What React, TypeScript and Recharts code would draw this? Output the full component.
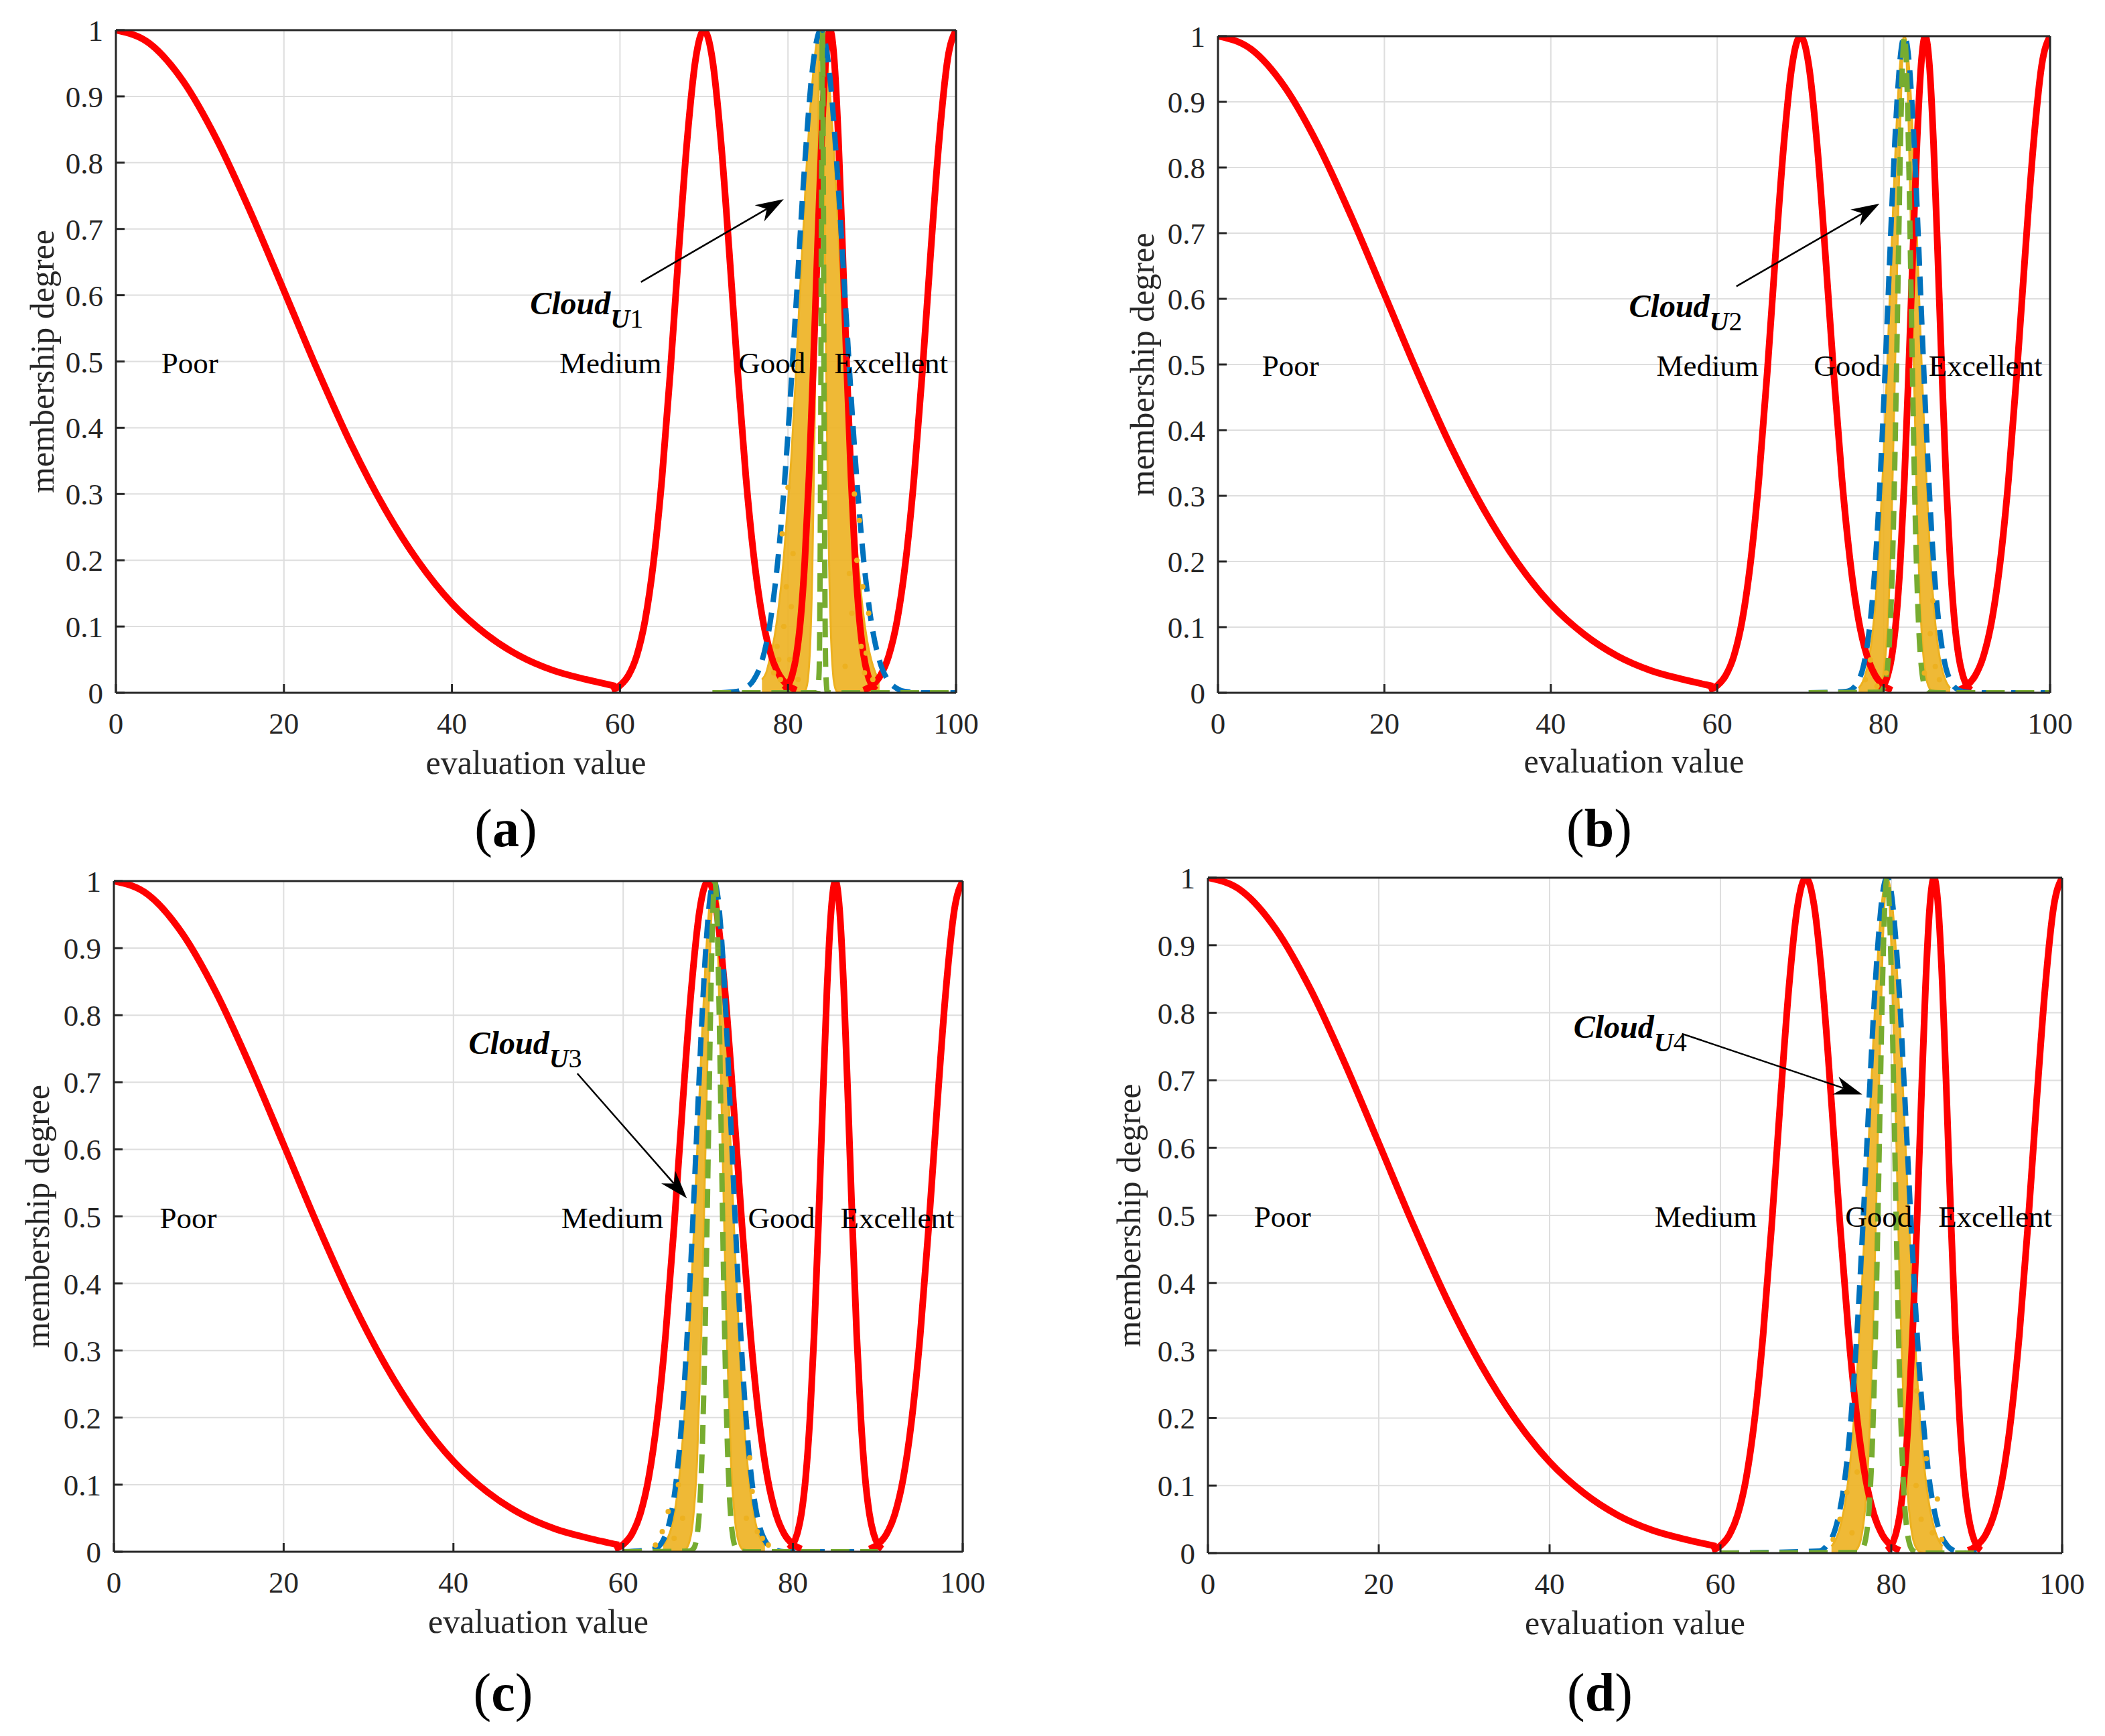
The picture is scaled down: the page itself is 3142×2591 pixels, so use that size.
import React from 'react'
import { Area, CartesianGrid, ComposedChart, Line, ReferenceDot, ReferenceLine, Scatter, XAxis, YAxis } from 'recharts'

type Pt = [number, number]
type Band = [number, number, number]

const xTicks = [0, 20, 40, 60, 80, 100]
const yTicks = [0, 0.1, 0.2, 0.3, 0.4, 0.5, 0.6, 0.7, 0.8, 0.9, 1]
const gradeNames = ['Poor', 'Medium', 'Good', 'Excellent']

// standard grade clouds (red), same in every panel
const poorCloud: Pt[] = [
  [0, 1], [4, 0.98], [8, 0.923], [12, 0.835], [16, 0.726], [20, 0.607], [24, 0.487], [28, 0.375],
  [32, 0.278], [36, 0.198], [40, 0.135], [44, 0.089], [48, 0.056], [52, 0.034], [56, 0.02], [59.5, 0.01],
]
const mediumCloud: Pt[] = [
  [59, 0.004], [60, 0.011], [61, 0.026], [62, 0.056], [63, 0.11], [64, 0.198], [65, 0.324], [66, 0.486],
  [67, 0.667], [68, 0.835], [69, 0.956], [70, 1], [71, 0.956], [72, 0.835], [73, 0.667], [74, 0.486],
  [75, 0.324], [76, 0.198], [77, 0.11], [78, 0.056], [79, 0.026], [80, 0.011], [81, 0.004],
]
const goodCloud: Pt[] = [
  [79.5, 0.004], [80, 0.011], [80.5, 0.027], [81, 0.057], [81.5, 0.111], [82, 0.199], [82.5, 0.326],
  [83, 0.488], [83.5, 0.668], [84, 0.836], [84.5, 0.956], [85, 1], [85.5, 0.956], [86, 0.836],
  [86.5, 0.668], [87, 0.488], [87.5, 0.326], [88, 0.199], [88.5, 0.111], [89, 0.057], [89.5, 0.027],
  [90, 0.011], [90.5, 0.004],
]
const excellentCloud: Pt[] = [
  [89, 0.004], [90, 0.011], [91, 0.026], [92, 0.056], [93, 0.11], [94, 0.198], [95, 0.324], [96, 0.486],
  [97, 0.667], [98, 0.835], [99, 0.956], [100, 1],
]
const gradeClouds = [poorCloud, mediumCloud, goodCloud, excellentCloud]

// (a) Cloud U1
const blueU1: Pt[] = [
  [72, 0], [73.9, 0.002], [74.9, 0.007], [75.9, 0.019], [76.9, 0.048], [77.9, 0.108], [78.9, 0.214],
  [79.9, 0.373], [80.9, 0.574], [81.9, 0.781], [82.9, 0.94], [83.9, 1], [84.9, 0.94], [85.9, 0.781],
  [86.9, 0.574], [87.9, 0.373], [88.9, 0.214], [89.9, 0.108], [90.9, 0.048], [91.9, 0.019], [92.9, 0.007],
  [93.9, 0.002], [96, 0], [100, 0],
]
const greenU1: Pt[] = [
  [71, 0], [83.5, 0], [83.7, 0.03], [83.8, 0.14], [83.9, 0.41], [84, 0.8], [84.1, 1], [84.2, 0.8],
  [84.3, 0.41], [84.4, 0.14], [84.5, 0.03], [84.7, 0], [100, 0],
]
const yellowU1: Band[] = [
  [76.9, 0, 0.02], [77.4, 0, 0.03], [77.9, 0, 0.055], [78.4, 0, 0.085], [78.9, 0, 0.13], [79.4, 0, 0.19],
  [79.9, 0, 0.27], [80.4, 0, 0.355], [80.9, 0, 0.47], [81.4, 0, 0.6], [81.9, 0.001, 0.715], [82.15, 0.006, 0.78],
  [82.4, 0.024, 0.83], [82.65, 0.076, 0.88], [82.9, 0.19, 0.92], [83.15, 0.39, 0.955], [83.4, 0.66, 0.98],
  [83.65, 0.9, 0.995], [83.9, 1, 1], [84.15, 0.9, 0.995], [84.4, 0.66, 0.98], [84.65, 0.39, 0.955],
  [84.9, 0.19, 0.92], [85.15, 0.076, 0.875], [85.4, 0.024, 0.83], [85.65, 0.006, 0.775], [85.9, 0.001, 0.72],
  [86.4, 0, 0.59], [86.9, 0, 0.475], [87.4, 0, 0.36], [87.9, 0, 0.265], [88.4, 0, 0.19], [88.9, 0, 0.125],
  [89.4, 0, 0.08], [89.9, 0, 0.05], [90.4, 0, 0.03], [90.9, 0, 0.017],
]
const dropsU1: Pt[] = [
  [78.3, 0.03], [78.7, 0.07], [79.1, 0.02], [79.5, 0.1], [79.8, 0.16], [80.2, 0.05], [80.6, 0.21], [81.2, 0.02],
  [86.8, 0.04], [87.6, 0.12], [88.2, 0.2], [88.7, 0.07], [89.1, 0.03], [89.6, 0.12], [90.1, 0.02], [87.9, 0.3],
  [80, 0.31], [88.5, 0.26], [79.3, 0.24], [88.9, 0.16], [78.9, 0.05], [89.3, 0.06], [80.4, 0.13], [87.3, 0.18],
]

// (b) Cloud U2
const blueU2: Pt[] = [
  [71, 0], [75.5, 0.002], [76.5, 0.009], [77, 0.019], [77.5, 0.037], [78, 0.07], [78.5, 0.122], [79, 0.199],
  [79.5, 0.306], [80, 0.44], [80.5, 0.591], [81, 0.744], [81.5, 0.877], [82, 0.968], [82.5, 1], [83, 0.968],
  [83.5, 0.877], [84, 0.744], [84.5, 0.591], [85, 0.44], [85.5, 0.306], [86, 0.199], [86.5, 0.122],
  [87, 0.07], [87.5, 0.037], [88, 0.019], [88.5, 0.009], [89.5, 0.002], [91, 0], [100, 0],
]
const greenU2: Pt[] = [
  [71, 0], [79.5, 0.001], [80, 0.008], [80.5, 0.044], [80.75, 0.091], [81, 0.172], [81.25, 0.295],
  [81.5, 0.458], [81.75, 0.644], [82, 0.823], [82.25, 0.952], [82.5, 1], [82.75, 0.952], [83, 0.823],
  [83.25, 0.644], [83.5, 0.458], [83.75, 0.295], [84, 0.172], [84.25, 0.091], [84.5, 0.044], [85, 0.008],
  [85.5, 0.001], [87, 0], [100, 0],
]
const yellowU2: Band[] = [
  [77, 0, 0.007], [77.5, 0, 0.017], [78, 0, 0.037], [78.5, 0, 0.073], [79, 0.001, 0.135], [79.5, 0.007, 0.23],
  [80, 0.031, 0.36], [80.5, 0.109, 0.52], [81, 0.288, 0.693], [81.5, 0.575, 0.849], [82, 0.871, 0.96],
  [82.5, 1, 1], [83, 0.871, 0.96], [83.5, 0.575, 0.849], [84, 0.288, 0.693], [84.5, 0.109, 0.52],
  [85, 0.031, 0.36], [85.5, 0.007, 0.23], [86, 0.001, 0.135], [86.5, 0, 0.073], [87, 0, 0.037],
  [87.5, 0, 0.017], [88, 0, 0.007],
]
const dropsU2: Pt[] = [
  [77.8, 0.02], [78.4, 0.05], [79.2, 0.01], [80.3, 0.03], [84.9, 0.03], [85.6, 0.09], [86.2, 0.04],
  [86.7, 0.02], [85.9, 0.14],
]

// (c) Cloud U3
const blueU3: Pt[] = [
  [60, 0], [63.7, 0.004], [64.7, 0.017], [65.2, 0.032], [65.7, 0.059], [66.2, 0.101], [66.7, 0.163],
  [67.2, 0.249], [67.7, 0.361], [68.2, 0.493], [68.7, 0.635], [69.2, 0.775], [69.7, 0.893], [70.2, 0.972],
  [70.7, 1], [71.2, 0.972], [71.7, 0.893], [72.2, 0.775], [72.7, 0.635], [73.2, 0.493], [73.7, 0.361],
  [74.2, 0.249], [74.7, 0.163], [75.2, 0.101], [75.7, 0.059], [76.2, 0.032], [76.7, 0.017], [77.7, 0.004],
  [79, 0], [90, 0],
]
const greenU3: Pt[] = [
  [60, 0], [67.8, 0.001], [68.3, 0.005], [68.8, 0.034], [69.05, 0.076], [69.3, 0.15], [69.55, 0.268],
  [69.8, 0.43], [70.05, 0.622], [70.3, 0.81], [70.55, 0.949], [70.8, 1], [71.05, 0.949], [71.3, 0.81],
  [71.55, 0.622], [71.8, 0.43], [72.05, 0.268], [72.3, 0.15], [72.55, 0.076], [72.8, 0.034], [73.3, 0.005],
  [73.8, 0.001], [75, 0], [90, 0],
]
const yellowU3: Band[] = [
  [64.7, 0, 0.009], [65.2, 0, 0.019], [65.7, 0, 0.037], [66.2, 0, 0.07], [66.7, 0, 0.122], [67.2, 0.002, 0.199],
  [67.7, 0.011, 0.306], [68.2, 0.044, 0.44], [68.7, 0.135, 0.591], [69.2, 0.325, 0.744], [69.7, 0.607, 0.877],
  [70.2, 0.882, 0.968], [70.7, 1, 1], [71.2, 0.882, 0.968], [71.7, 0.607, 0.877], [72.2, 0.325, 0.744],
  [72.7, 0.135, 0.591], [73.2, 0.044, 0.44], [73.7, 0.011, 0.306], [74.2, 0.002, 0.199], [74.7, 0, 0.122],
  [75.2, 0, 0.07], [75.7, 0, 0.037], [76.2, 0, 0.019], [76.7, 0, 0.009],
]
const dropsU3: Pt[] = [
  [63.8, 0.01], [64.6, 0.03], [65.3, 0.06], [66, 0.02], [66.5, 0.1], [67, 0.05], [74.5, 0.05], [75.2, 0.09],
  [75.8, 0.03], [76.4, 0.02], [77.1, 0.01], [74.9, 0.14],
]

// (d) Cloud U4
const blueU4: Pt[] = [
  [60, 0], [71.5, 0.003], [72.5, 0.012], [73.5, 0.038], [74, 0.065], [74.5, 0.104], [75, 0.16], [75.5, 0.235],
  [76, 0.33], [76.5, 0.443], [77, 0.568], [77.5, 0.696], [78, 0.816], [78.5, 0.913], [79, 0.978], [79.5, 1],
  [80, 0.978], [80.5, 0.913], [81, 0.816], [81.5, 0.696], [82, 0.568], [82.5, 0.443], [83, 0.33],
  [83.5, 0.235], [84, 0.16], [84.5, 0.104], [85, 0.065], [85.5, 0.038], [86.5, 0.012], [87.5, 0.003],
  [89, 0], [90, 0],
]
const greenU4: Pt[] = [
  [60, 0], [76, 0.001], [76.5, 0.004], [77, 0.021], [77.5, 0.085], [77.75, 0.151], [78, 0.249], [78.25, 0.381],
  [78.5, 0.539], [78.75, 0.707], [79, 0.857], [79.25, 0.962], [79.5, 1], [79.75, 0.962], [80, 0.857],
  [80.25, 0.707], [80.5, 0.539], [80.75, 0.381], [81, 0.249], [81.25, 0.151], [81.5, 0.085], [82, 0.021],
  [82.5, 0.004], [83, 0.001], [84, 0], [90, 0],
]
const yellowU4: Band[] = [
  [73, 0, 0.01], [73.5, 0, 0.02], [74, 0, 0.038], [74.5, 0, 0.067], [75, 0, 0.112], [75.5, 0.001, 0.177],
  [76, 0.006, 0.266], [76.5, 0.024, 0.378], [77, 0.076, 0.508], [77.5, 0.192, 0.649], [78, 0.395, 0.784],
  [78.5, 0.662, 0.898], [79, 0.902, 0.973], [79.5, 1, 1], [80, 0.902, 0.973], [80.5, 0.662, 0.898],
  [81, 0.395, 0.784], [81.5, 0.192, 0.649], [82, 0.076, 0.508], [82.5, 0.024, 0.378], [83, 0.006, 0.266],
  [83.5, 0.001, 0.177], [84, 0, 0.112], [84.5, 0, 0.067], [85, 0, 0.038], [85.5, 0, 0.02], [86, 0, 0.01],
]
const dropsU4: Pt[] = [
  [73.2, 0.02], [74, 0.05], [74.8, 0.09], [75.4, 0.03], [76, 0.12], [82.9, 0.1], [83.5, 0.05], [84.1, 0.14],
  [84.8, 0.03], [85.4, 0.08], [83, 0.24], [85.9, 0.02],
]

// where the grade names and the cloud tag sit (data units)
const gradeXa = [5.4, 52.8, 74.1, 85.5]
const gradeXb = [5.3, 52.7, 71.6, 85.4]
const gradeXc = [5.4, 52.7, 74.7, 85.6]
const gradeXd = [5.4, 52.3, 74.6, 85.5]

const panels = [
  { id: 'a', sub: '1', blue: blueU1, green: greenU1, yellow: yellowU1, drops: dropsU1, gradeX: gradeXa,
    tag: [49.3, 0.571], arrow: [[62.5, 0.62], [79.5, 0.745]],
    L: 173, R: 1427, T: 45, B: 1034, yLabelX: 80, xLabelY: 1155, letterX: 755, letterY: 1263 },
  { id: 'b', sub: '2', blue: blueU2, green: greenU2, yellow: yellowU2, drops: dropsU2, gradeX: gradeXb,
    tag: [49.4, 0.572], arrow: [[62.3, 0.619], [79.5, 0.745]],
    L: 1818, R: 3060, T: 54, B: 1034, yLabelX: 1722, xLabelY: 1153, letterX: 2387, letterY: 1263 },
  { id: 'c', sub: '3', blue: blueU3, green: greenU3, yellow: yellowU3, drops: dropsU3, gradeX: gradeXc,
    tag: [41.8, 0.742], arrow: [[54.6, 0.713], [67.5, 0.527]],
    L: 170, R: 1437, T: 1315, B: 2316, yLabelX: 73, xLabelY: 2437, letterX: 751, letterY: 2553 },
  { id: 'd', sub: '4', blue: blueU4, green: greenU4, yellow: yellowU4, drops: dropsU4, gradeX: gradeXd,
    tag: [42.8, 0.763], arrow: [[55.5, 0.769], [76.6, 0.679]],
    L: 1803, R: 3078, T: 1310, B: 2318, yLabelX: 1702, xLabelY: 2439, letterX: 2388, letterY: 2553 },
]

const serif = '"Liberation Serif", "Times New Roman", Times, serif'
const ink = '#262626'
const boxLine = { stroke: ink, strokeWidth: 3 }

const toXY = (pts: Pt[]) => pts.map(([x, y]) => ({ x, y }))
const toBand = (b: Band[]) => b.map(([x, lo, hi]) => ({ x, r: [lo, hi] }))

const XTick = (t: any) => (
  <text x={t.x} y={t.y} dy={32} textAnchor="middle" fontSize={45} fill={ink} style={{ fontFamily: serif }}>
    {t.payload.value}
  </text>
)
const YTick = (t: any) => (
  <text x={t.x} y={t.y} dy={16} textAnchor="end" fontSize={45} fill={ink} style={{ fontFamily: serif }}>
    {t.payload.value}
  </text>
)

const arrowShape = (p: any) => {
  const { x1, y1, x2, y2 } = p
  const dx = x2 - x1
  const dy = y2 - y1
  const len = Math.sqrt(dx * dx + dy * dy) || 1
  const ux = dx / len
  const uy = dy / len
  const nx = -uy
  const ny = ux
  const hl = 42
  const hw = 14
  const bx = x2 - ux * hl
  const by = y2 - uy * hl
  const mx = x2 - ux * hl * 0.7
  const my = y2 - uy * hl * 0.7
  return (
    <g>
      <line x1={x1} y1={y1} x2={mx} y2={my} stroke="#000" strokeWidth={2.5} />
      <polygon points={`${x2},${y2} ${bx + nx * hw},${by + ny * hw} ${mx},${my} ${bx - nx * hw},${by - ny * hw}`} fill="#000" />
    </g>
  )
}

function Panel({ p }: { p: any }) {
  const w = p.R - p.L + 260
  const h = p.B - p.T + 160
  return (
    <div style={{ position: 'absolute', left: p.L - 200, top: p.T - 60, fontFamily: serif }}>
      <ComposedChart width={w} height={h} margin={{ top: 59, right: 59, left: 0, bottom: 0 }}>
        <CartesianGrid stroke="#dedede" strokeWidth={2} />
        <XAxis dataKey="x" type="number" domain={[0, 100]} ticks={xTicks} interval={0} allowDataOverflow
          height={100} tickSize={-13} tickMargin={42} tick={<XTick />} axisLine={boxLine} tickLine={boxLine} />
        <XAxis xAxisId="top" orientation="top" type="number" domain={[0, 100]} ticks={xTicks} interval={0}
          allowDataOverflow height={1} tickSize={-13} tick={false} axisLine={boxLine} tickLine={boxLine} />
        <YAxis type="number" domain={[0, 1]} ticks={yTicks} interval={0} allowDataOverflow width={200}
          tickSize={-13} tickMargin={32} tick={<YTick />} axisLine={boxLine} tickLine={boxLine} />
        <YAxis yAxisId="right" orientation="right" type="number" domain={[0, 1]} ticks={yTicks} interval={0}
          allowDataOverflow width={1} tickSize={-13} tick={false} axisLine={boxLine} tickLine={boxLine} />

        {gradeClouds.map((c, i) => (
          <Line key={'g' + i} data={toXY(c)} dataKey="y" type="monotone" stroke="#ff0000" strokeWidth={10}
            dot={false} isAnimationActive={false} />
        ))}
        <Area data={toBand(p.yellow)} dataKey="r" type="monotone" fill="#EDB120" fillOpacity={0.9}
          stroke="#EDB120" strokeWidth={3} isAnimationActive={false} />
        <Scatter data={toXY(p.drops)} dataKey="y" fill="#EDB120" isAnimationActive={false}
          shape={(d: any) => <circle cx={d.cx} cy={d.cy} r={4} fill="#EDB120" />} />
        <Line data={toXY(p.blue)} dataKey="y" type="monotone" stroke="#0072BD" strokeWidth={8}
          strokeDasharray="28 16" dot={false} isAnimationActive={false} />
        <Line data={toXY(p.green)} dataKey="y" type="monotone" stroke="#77AC30" strokeWidth={8}
          strokeDasharray="28 16" dot={false} isAnimationActive={false} />

        {gradeNames.map((name, i) => (
          <ReferenceDot key={name} x={p.gradeX[i]} y={0.5} r={0}
            shape={(d: any) => (
              <text x={d.cx} y={d.cy + 17} fontSize={45} fill="#000" style={{ fontFamily: serif }}>{name}</text>
            )} />
        ))}
        <ReferenceLine segment={[{ x: p.arrow[0][0], y: p.arrow[0][1] }, { x: p.arrow[1][0], y: p.arrow[1][1] }]}
          shape={arrowShape} />
        <ReferenceDot x={p.tag[0]} y={p.tag[1]} r={0}
          shape={(d: any) => (
            <text x={d.cx} y={d.cy} fill="#000" style={{ fontFamily: serif }}>
              <tspan fontSize={48} fontWeight="bold" fontStyle="italic">Cloud</tspan>
              <tspan fontSize={40} fontWeight="bold" fontStyle="italic" dy={20}>U</tspan>
              <tspan fontSize={40}>{p.sub}</tspan>
            </text>
          )} />
      </ComposedChart>
    </div>
  )
}

export default function App() {
  return (
    <div style={{ position: 'absolute', left: 0, top: 0, width: 3142, height: 2591, background: '#fff', fontFamily: serif }}>
      {panels.map(p => <Panel key={p.id} p={p} />)}
      <svg width={3142} height={2591} style={{ position: 'absolute', left: 0, top: 0, pointerEvents: 'none' }}>
        {panels.map(p => (
          <g key={p.id} style={{ fontFamily: serif }}>
            <text x={(p.L + p.R) / 2} y={p.xLabelY} textAnchor="middle" fontSize={50} fill={ink}>evaluation value</text>
            <text transform={`translate(${p.yLabelX},${(p.T + p.B) / 2}) rotate(-90)`} textAnchor="middle"
              fontSize={50} fill={ink}>membership degree</text>
            <text x={p.letterX} y={p.letterY} textAnchor="middle" fontSize={80} fill="#000">
              (<tspan fontWeight="bold">{p.id}</tspan>)
            </text>
          </g>
        ))}
      </svg>
    </div>
  )
}
